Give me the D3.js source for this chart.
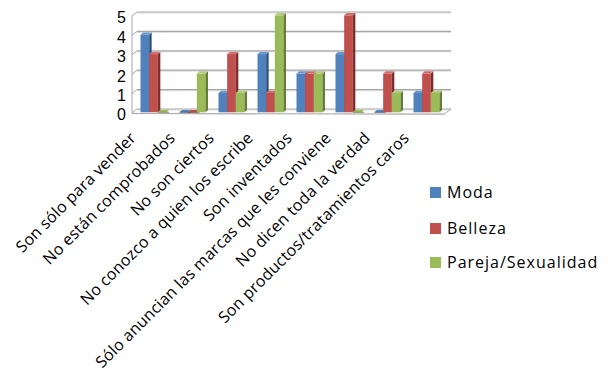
<!DOCTYPE html>
<html>
<head>
<meta charset="utf-8">
<script src="https://cdn.jsdelivr.net/npm/d3@7/dist/d3.min.js"></script>
<style>
  body { margin: 0; background: #fff; }
  text { font-family: "Open Sans", "DejaVu Sans", sans-serif; fill: #000; }
</style>
</head>
<body>
<div id="chart"></div>
<script>
const categories = [
  "Son sólo para vender",
  "No están comprobados",
  "No son ciertos",
  "No conozco a quien los escribe",
  "Son inventados",
  "Sólo anuncian las marcas que les conviene",
  "No dicen toda la verdad",
  "Son productos/tratamientos caros"
];
const seriesNames = ["Moda", "Belleza", "Pareja/Sexualidad"];
const moda = [4, 0, 1, 3, 2, 3, 0, 1];
const belleza = [3, 0, 3, 1, 2, 5, 2, 2];
const pareja = [0, 2, 1, 5, 2, 0, 1, 1];
const yTicks = [0, 1, 2, 3, 4, 5];

const seriesValues = [moda, belleza, pareja];
const colors = ["#4F81BD", "#C0504D", "#9BBB59"];
const sideColors = ["#2F5281", "#7E2F2D", "#667D37"];
const topColors = ["#6F97CC", "#D26F6C", "#B2CC7C"];

const width = 608, height = 381;
const svg = d3.select("#chart").append("svg")
  .attr("width", width).attr("height", height);

// front plane x, bars are set a bit deeper
const x = d3.scaleBand().domain(categories).range([132, 444])
  .paddingInner(1 / 3).paddingOuter(1 / 6);
const xs = d3.scaleBand().domain(seriesNames).range([0, x.bandwidth()]);
const y = d3.scaleLinear().domain([0, 5]).range([112.3, 15.3]);

const back = { dx: 5, dy: -3.3 };
const front = { dx: 0, dy: 0.7 };
const barShift = 2;
const depth = { dx: 2.5, dy: -2.2 };

// back wall gridlines
const grid = svg.append("g");
yTicks.forEach(t => {
  const yb = y(t) + back.dy;
  const yf = y(t) + front.dy;
  grid.append("line")
    .attr("x1", 132 + back.dx).attr("x2", 451)
    .attr("y1", yb + 1).attr("y2", yb + 1)
    .attr("stroke", "#dcdcdc").attr("stroke-width", 1);
  grid.append("line")
    .attr("x1", 132 + back.dx).attr("x2", 451)
    .attr("y1", yb).attr("y2", yb)
    .attr("stroke", "#a6a6a6").attr("stroke-width", 1.2);
  // side wall diagonal
  grid.append("line")
    .attr("x1", 132).attr("y1", yf)
    .attr("x2", 132 + back.dx).attr("y2", yb)
    .attr("stroke", "#a6a6a6").attr("stroke-width", 1);
});
// left axis line
grid.append("line")
  .attr("x1", 132).attr("x2", 132)
  .attr("y1", y(5) + front.dy).attr("y2", y(0) + front.dy)
  .attr("stroke", "#a6a6a6").attr("stroke-width", 1);
// floor front edge and right edge
grid.append("line")
  .attr("x1", 132).attr("x2", 444)
  .attr("y1", y(0) + front.dy + 0.5).attr("y2", y(0) + front.dy + 1.2)
  .attr("stroke", "#a6a6a6").attr("stroke-width", 1.2);
grid.append("line")
  .attr("x1", 444).attr("y1", y(0) + front.dy + 1.2)
  .attr("x2", 451).attr("y2", y(0) + back.dy)
  .attr("stroke", "#a6a6a6").attr("stroke-width", 1);

// y labels
svg.append("g").selectAll("text")
  .data(yTicks).join("text")
  .attr("x", 126)
  .attr("y", d => y(d) + 2.5)
  .attr("dy", "0.35em")
  .attr("text-anchor", "end")
  .style("font-family", "'Liberation Sans', Arial, sans-serif")
  .style("font-size", "16px")
  .text(d => d);

// bars
const bars = svg.append("g");
seriesNames.forEach((s, si) => {
  const vals = seriesValues[si];
  categories.forEach((c, ci) => {
    const v = vals[ci];
    const x0 = x(c) + xs(s) + barShift;
    const w = xs.bandwidth();
    const yt = y(v), yb = y(0);
    const g = bars.append("g");
    if (v > 0) {
      g.append("rect")
        .attr("x", x0).attr("y", yt)
        .attr("width", w).attr("height", yb - yt)
        .attr("fill", colors[si]);
      g.append("path")
        .attr("d", `M${x0 + w},${yt}L${x0 + w + depth.dx},${yt + depth.dy}L${x0 + w + depth.dx},${yb + depth.dy}L${x0 + w},${yb}Z`)
        .attr("fill", sideColors[si]);
    }
    g.append("path")
      .attr("d", `M${x0},${yt}L${x0 + w},${yt}L${x0 + w + depth.dx},${yt + depth.dy}L${x0 + depth.dx},${yt + depth.dy}Z`)
      .attr("fill", v > 0 ? topColors[si] : colors[si]);
    if (v === 0) {
      g.append("line")
        .attr("x1", x0).attr("x2", x0 + w + depth.dx)
        .attr("y1", yt).attr("y2", yt)
        .attr("stroke", sideColors[si]).attr("stroke-width", 0.8);
    }
  });
});

// category labels, rotated
svg.append("g").selectAll("text")
  .data(categories).join("text")
  .attr("transform", d => `translate(${x(d) + x.bandwidth() / 2 - 14.5},139) rotate(-45)`)
  .attr("text-anchor", "end")
  .style("font-size", "16px")
  .style("letter-spacing", "0.2px")
  .text(d => d);

// legend
const legend = svg.append("g");
const legendY = [192.5, 228.5, 262.5];
seriesNames.forEach((s, i) => {
  legend.append("rect")
    .attr("x", 430).attr("y", legendY[i] - 5.5)
    .attr("width", 11).attr("height", 11)
    .attr("fill", colors[i]);
  legend.append("text")
    .attr("x", 447).attr("y", legendY[i])
    .attr("dy", "0.35em")
    .style("font-size", "16px")
    .style("letter-spacing", "1px")
    .text(s);
});
</script>
</body>
</html>
